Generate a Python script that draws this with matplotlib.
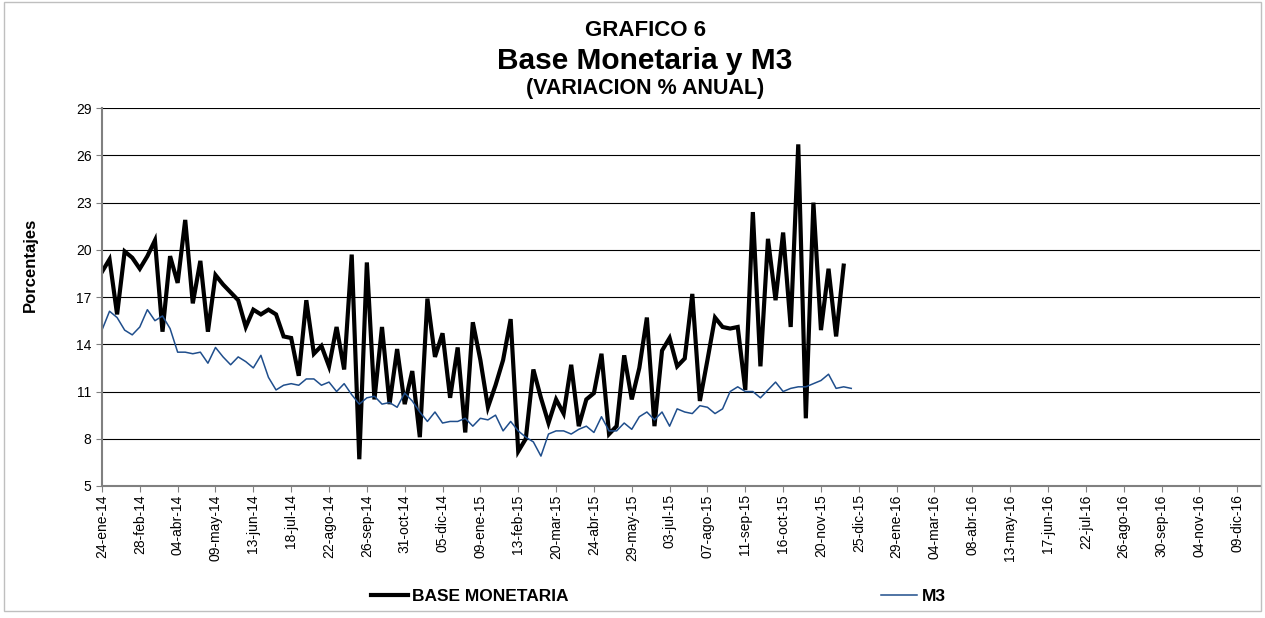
import numpy as np
import matplotlib
matplotlib.use("Agg")
import matplotlib.pyplot as plt
from matplotlib.lines import Line2D
from matplotlib.patches import Rectangle
import datetime as dt

plt.rcParams['font.family'] = ['Liberation Sans', 'DejaVu Sans']

# weekly observations starting 24-ene-14
start = dt.date(2014, 1, 24)

base_monetaria = [
    18.6, 19.4, 15.9, 19.9, 19.5, 18.8, 19.6, 20.6, 14.8, 19.6,
    17.9, 21.9, 16.6, 19.3, 14.8, 18.4, 17.8, 17.3, 16.8, 15.1,
    16.2, 15.9, 16.2, 15.9, 14.5, 14.4, 12.0, 16.8, 13.4, 13.9,
    12.6, 15.1, 12.4, 19.7, 6.7, 19.2, 10.5, 15.1, 10.2, 13.7,
    10.2, 12.3, 8.1, 16.9, 13.2, 14.7, 10.6, 13.8, 8.4, 15.4,
    13.0, 10.0, 11.4, 13.0, 15.6, 7.2, 8.0, 12.4, 10.6, 9.0,
    10.5, 9.6, 12.7, 8.8, 10.5, 10.9, 13.4, 8.3, 8.8, 13.3,
    10.5, 12.5, 15.7, 8.8, 13.6, 14.4, 12.6, 13.1, 17.2, 10.4,
    13.0, 15.7, 15.1, 15.0, 15.1, 11.1, 22.4, 12.6, 20.7, 16.8,
    21.1, 15.1, 26.7, 9.3, 23.0, 14.9, 18.8, 14.5, 19.0,
]

m3 = [
    14.9, 16.1, 15.7, 14.9, 14.6, 15.1, 16.2, 15.5, 15.8, 15.0,
    13.5, 13.5, 13.4, 13.5, 12.8, 13.8, 13.2, 12.7, 13.2, 12.9,
    12.5, 13.3, 11.9, 11.1, 11.4, 11.5, 11.4, 11.8, 11.8, 11.4,
    11.6, 11.0, 11.5, 10.8, 10.2, 10.6, 10.7, 10.2, 10.3, 10.0,
    10.9, 10.4, 9.7, 9.1, 9.7, 9.0, 9.1, 9.1, 9.3, 8.8,
    9.3, 9.2, 9.5, 8.5, 9.1, 8.5, 8.1, 7.8, 6.9, 8.3,
    8.5, 8.5, 8.3, 8.6, 8.8, 8.4, 9.4, 8.5, 8.5, 9.0,
    8.6, 9.4, 9.7, 9.2, 9.7, 8.8, 9.9, 9.7, 9.6, 10.1,
    10.0, 9.6, 9.9, 11.0, 11.3, 11.0, 11.0, 10.6, 11.1, 11.6,
    11.0, 11.2, 11.3, 11.3, 11.5, 11.7, 12.1, 11.2, 11.3, 11.2,
]

meses = ['ene', 'feb', 'mar', 'abr', 'may', 'jun',
         'jul', 'ago', 'sep', 'oct', 'nov', 'dic']
y_ticks = [5, 8, 11, 14, 17, 20, 23, 26, 29]

dates_bm = [start + dt.timedelta(weeks=i) for i in range(len(base_monetaria))]
dates_m3 = [start + dt.timedelta(weeks=i) for i in range(len(m3))]
tick_dates = [start + dt.timedelta(weeks=5 * k) for k in range(31)]
tick_labels = ["%02d-%s-%s" % (d.day, meses[d.month - 1], str(d.year)[2:])
               for d in tick_dates]

fig = plt.figure(figsize=(12.65, 6.18), dpi=100)
fig.patches.append(Rectangle((0.003, 0.012), 0.994, 0.985, transform=fig.transFigure,
                             fill=False, edgecolor='#bfbfbf', linewidth=1.0))
ax = fig.add_axes([0.0806, 0.2136, 0.9154, 0.6114])

ax.plot(dates_bm, base_monetaria, color='black', linewidth=3.0,
        solid_joinstyle='miter')
ax.plot(dates_m3, m3, color='#1f4e8c', linewidth=1.1)

ax.set_ylim(5, 29)
ax.set_yticks(y_ticks)
ax.set_xlim(start, start + dt.timedelta(weeks=153))
ax.set_xticks(tick_dates)
ax.set_xticklabels(tick_labels, rotation=90, fontsize=10)
ax.tick_params(axis='y', labelsize=10, length=4, color='#808080')
ax.tick_params(axis='x', length=4, color='#808080', pad=2)

ax.grid(axis='y', color='black', linewidth=0.8)
ax.set_axisbelow(True)
for side in ['left', 'bottom', 'right', 'top']:
    ax.spines[side].set_color('#808080')
    ax.spines[side].set_linewidth(1.5)
ax.spines['top'].set_visible(False)
ax.spines['right'].set_visible(False)

ax.set_ylabel('Porcentajes', fontsize=12, fontweight='bold')
ax.yaxis.set_label_coords(-0.055, 0.585)

fig.text(0.51, 0.950, 'GRAFICO 6', ha='center', va='center', fontsize=16, fontweight='bold')
fig.text(0.51, 0.902, 'Base Monetaria y M3', ha='center', va='center', fontsize=21.5, fontweight='bold')
fig.text(0.51, 0.857, '(VARIACION % ANUAL)', ha='center', va='center', fontsize=15.5, fontweight='bold')

h1 = Line2D([], [], color='black', linewidth=3.0)
h2 = Line2D([], [], color='#1f4e8c', linewidth=1.1)
leg1 = fig.legend([h1], ['BASE MONETARIA'], loc='center left',
                  bbox_to_anchor=(0.281, 0.035), frameon=False,
                  prop={'weight': 'bold', 'size': 12.5}, handlelength=2.1,
                  handletextpad=0.25)
leg2 = fig.legend([h2], ['M3'], loc='center left',
                  bbox_to_anchor=(0.684, 0.035), frameon=False,
                  prop={'weight': 'bold', 'size': 12.5}, handlelength=2.1,
                  handletextpad=0.25)

fig.savefig('out.png', dpi=100)
